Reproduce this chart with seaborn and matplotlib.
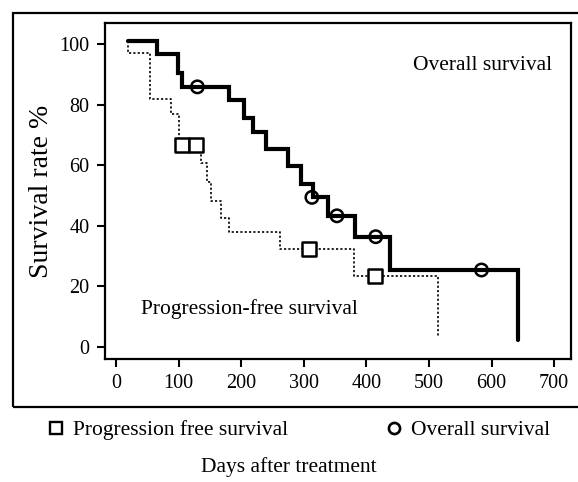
import matplotlib
matplotlib.use("Agg")
import matplotlib.pyplot as plt
import seaborn as sns
import pandas as pd
from matplotlib.lines import Line2D
from matplotlib.patches import Rectangle

# ---- data ----
os_days = [19, 65, 99, 105, 181, 205, 219, 239, 275, 295, 314, 338, 382, 437, 642]
os_rate = [101, 96.6, 90.6, 85.9, 81.5, 75.5, 70.9, 65.5, 59.8, 53.8, 49.4, 43.3, 36.4, 25.4, 2.3]

pfs_days = [19, 19, 54, 88, 101, 136, 146, 151, 167, 180, 262, 381, 515, 515]
pfs_rate = [101, 97, 81.8, 76.9, 66.7, 60.6, 54.6, 48.3, 42.7, 38.0, 32.2, 23.4, 23.4, 3.6]

os_cens_days = [130, 313, 353, 415, 584]
os_cens_rate = [85.9, 49.4, 43.3, 36.4, 25.4]

pfs_cens_days = [105, 128, 309, 414]
pfs_cens_rate = [66.7, 66.7, 32.2, 23.4]

x_ticks = [0, 100, 200, 300, 400, 500, 600, 700]
y_ticks = [0, 20, 40, 60, 80, 100]

sns.set_theme(style="ticks")
plt.rcParams["font.family"] = ["Liberation Serif", "DejaVu Serif"]
for k in ["text.color", "axes.labelcolor", "xtick.color", "ytick.color", "axes.edgecolor"]:
    plt.rcParams[k] = "black"

fig = plt.figure(figsize=(5.78, 4.82), dpi=100)
ax = fig.add_axes([105 / 578, 1 - 359 / 482, (571 - 105) / 578, (359 - 23) / 482])

os_df = pd.DataFrame({"day": os_days, "rate": os_rate})
pfs_df = pd.DataFrame({"day": pfs_days, "rate": pfs_rate})

sns.lineplot(data=pfs_df, x="day", y="rate", ax=ax, sort=False, estimator=None,
             drawstyle="steps-post", color="black", linewidth=1.2, linestyle=(0, (1.3, 1.3)))
sns.lineplot(data=os_df, x="day", y="rate", ax=ax, sort=False, estimator=None,
             drawstyle="steps-post", color="black", linewidth=3.0, solid_joinstyle="miter")

sns.scatterplot(x=pfs_cens_days, y=pfs_cens_rate, ax=ax, marker="s", s=100,
                facecolor="white", edgecolor="black", linewidth=1.8, zorder=5)
sns.scatterplot(x=os_cens_days, y=os_cens_rate, ax=ax, marker="o", s=80,
                facecolor="none", edgecolor="black", linewidth=1.8, zorder=5)

ax.set_xlim(-17.6, 727)
ax.set_ylim(-4, 107)
ax.set_xticks(x_ticks)
ax.set_yticks(y_ticks)
ax.set_xlabel("")
ax.set_ylabel("Survival rate %", fontsize=20, labelpad=4)
for s in ax.spines.values():
    s.set_linewidth(1.6)
    s.set_visible(True)
    s.set_color("black")
ax.tick_params(axis="both", direction="out", length=6, width=1.5, labelsize=14.5, pad=5,
               colors="black")

ax.text(475, 93, "Overall survival", fontsize=15.5, va="center", ha="left")
ax.text(39.5, 12.5, "Progression-free survival", fontsize=15.5, va="center", ha="left")

# outer frame
fig.add_artist(Rectangle((13 / 578, 1 - 407 / 482), 1.2, (407 - 13) / 482,
                         transform=fig.transFigure, fill=False, edgecolor="black",
                         linewidth=1.6, clip_on=False))

handles = [
    Line2D([], [], marker="s", linestyle="none", markersize=9, markerfacecolor="white",
           markeredgecolor="black", markeredgewidth=1.7),
    Line2D([], [], marker="o", linestyle="none", markersize=8, markerfacecolor="white",
           markeredgecolor="black", markeredgewidth=1.9),
]
fig.legend(handles, ["Progression free survival", "Overall survival"], ncol=2,
           loc="center", bbox_to_anchor=(299 / 578, 1 - 430 / 482), frameon=False,
           fontsize=15.5, handlelength=0.8, handletextpad=0.4, columnspacing=4.5)

fig.text(289 / 578, 1 - 467 / 482, "Days after treatment", fontsize=15.5, ha="center", va="center")

fig.savefig("out.png", dpi=100)
